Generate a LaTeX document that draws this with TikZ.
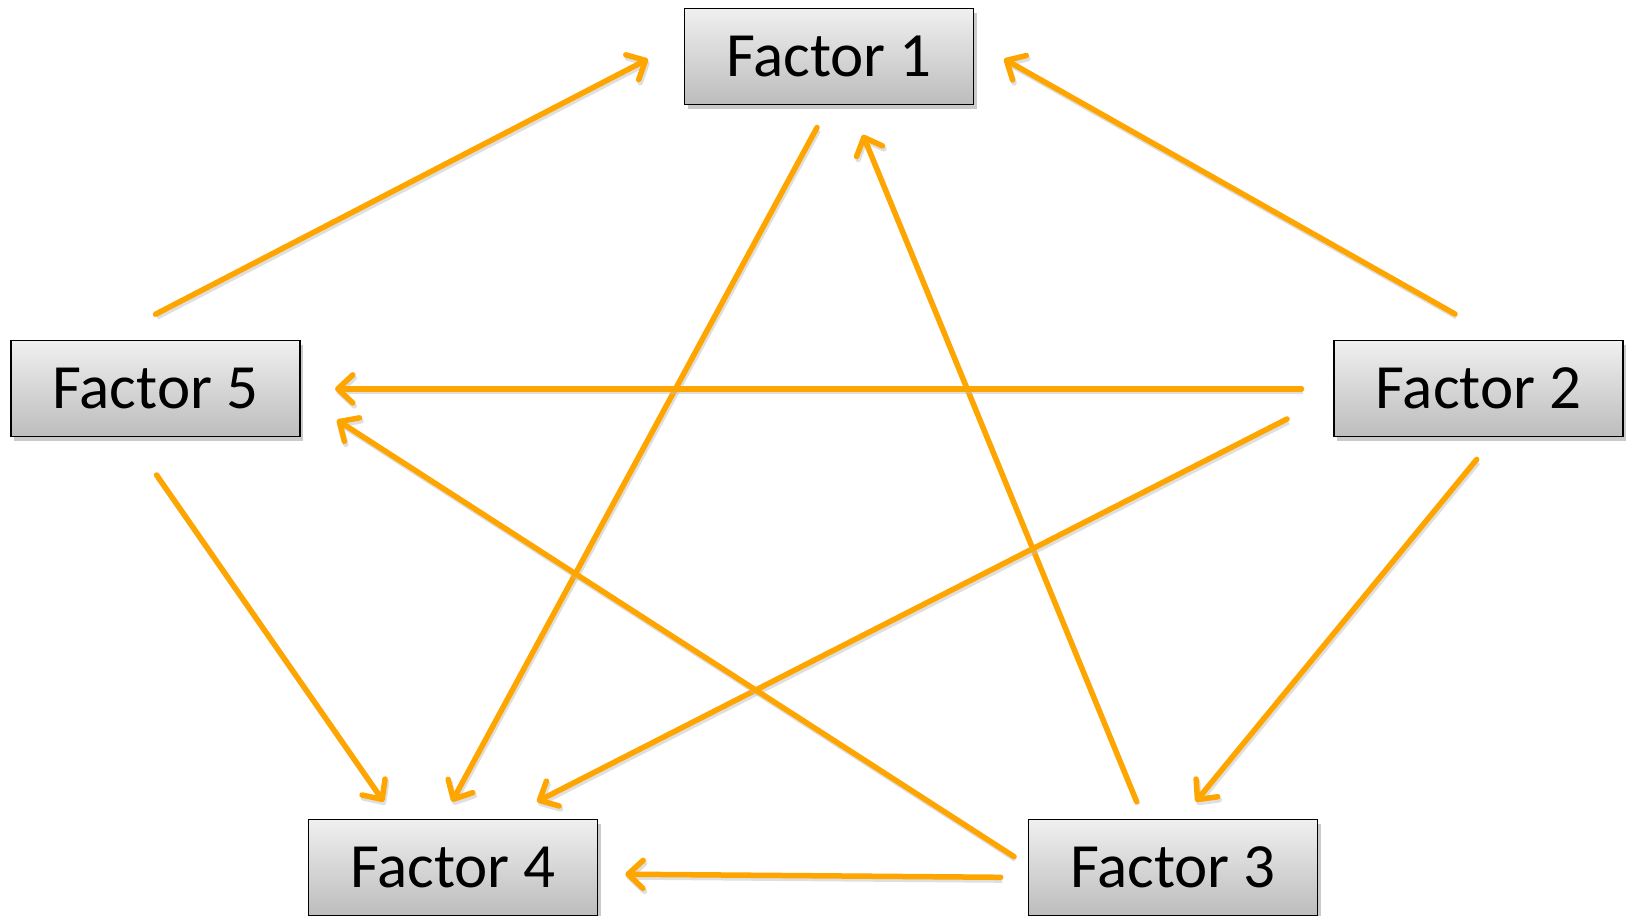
\documentclass[tikz,border=0pt]{standalone}
\usepackage{fontspec}
\setmainfont{Carlito}
\usetikzlibrary{arrows.meta,shadows}
\definecolor{arr}{RGB}{255,165,0}
\tikzset{
  fbox/.style={rectangle, draw=black, line width=1.4pt, minimum width=289pt, minimum height=96pt,
    top color=white!94!black, bottom color=white!74!black, inner sep=0pt,
    drop shadow={shadow xshift=3pt, shadow yshift=-4pt, opacity=0.35, fill=black!60},
    font=\fontsize{63}{70}\selectfont},
  link/.style={draw=arr, line width=5.5pt, line cap=round,
    -{Straight Barb[length=15pt,width=28pt,line width=5.5pt,line cap=round,line join=round]},
    preaction={draw=black!25, opacity=0.5, line width=5pt, transform canvas={shift={(1.5pt,-3pt)}}}}
}
\begin{document}
\begin{tikzpicture}[x=1pt,y=-1pt]
\useasboundingbox (0,0) rectangle (1626,916);
\node[fbox] (f1) at (829,56.5) {Factor 1};
\node[fbox] (f5) at (155.5,388.5) {Factor 5};
\node[fbox] (f2) at (1478.5,388.5) {Factor 2};
\node[fbox] (f4) at (453,867.5) {Factor 4};
\node[fbox] (f3) at (1173,867.5) {Factor 3};
% connector end points
\coordinate (a1s) at (155.6,314.2); \coordinate (a1e) at (648,59.1);
\coordinate (a2s) at (1455,314);    \coordinate (a2e) at (1004,59);
\coordinate (a3s) at (817,127.5);   \coordinate (a3e) at (452,801.6);
\coordinate (a4s) at (1136.6,801.6);\coordinate (a4e) at (862.8,134.8);
\coordinate (a5s) at (1301.5,388.9);\coordinate (a5e) at (335,388.9);
\coordinate (a6s) at (1287,419);    \coordinate (a6e) at (537,801.6);
\coordinate (a7s) at (1014,856.6);  \coordinate (a7e) at (337,420);
\coordinate (a8s) at (156.6,475);   \coordinate (a8e) at (383.7,801.6);
\coordinate (a9s) at (1476.7,459.4);\coordinate (a9e) at (1195.7,801.6);
\coordinate (a10s) at (1000.7,877.3);\coordinate (a10e) at (625.3,874.2);
\draw[link] (a1s) -- (a1e);
\draw[link] (a2s) -- (a2e);
\draw[link] (a3s) -- (a3e);
\draw[link] (a4s) -- (a4e);
\draw[link] (a5s) -- (a5e);
\draw[link] (a6s) -- (a6e);
\draw[link] (a7s) -- (a7e);
\draw[link] (a8s) -- (a8e);
\draw[link] (a9s) -- (a9e);
\draw[link] (a10s) -- (a10e);
\end{tikzpicture}
\end{document}
